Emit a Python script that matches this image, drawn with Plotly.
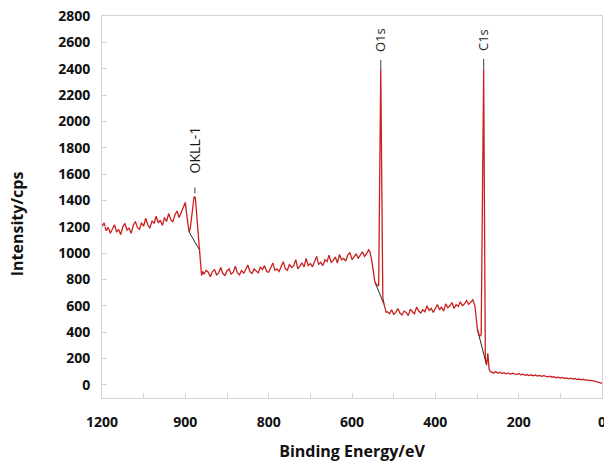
import plotly.graph_objects as go

# ---------------- data ----------------
seg_a_ev = list(range(1200, 999, -5))
seg_a_cps = [1200, 1230, 1170, 1195, 1150, 1185, 1215, 1160, 1180, 1140,
             1200, 1225, 1175, 1190, 1150, 1210, 1240, 1195, 1180, 1230,
             1205, 1265, 1215, 1190, 1245, 1225, 1280, 1230, 1250, 1210,
             1270, 1240, 1300, 1255, 1235, 1290, 1320, 1270, 1310, 1345,
             1385]

okll_ev = [997, 994, 991, 988, 985, 982, 979, 976, 973, 970, 967, 964, 961, 958]
okll_cps = [1300, 1230, 1160, 1190, 1260, 1350, 1430, 1420, 1300, 1150, 1030, 880, 830, 860]

seg_b_ev = list(range(955, 559, -5))
seg_b_cps = [840, 870, 855, 820, 860, 875, 835, 850, 890, 845,
             830, 865, 880, 840, 855, 900, 850, 835, 870, 845,
             885, 910, 860, 845, 880, 865, 850, 895, 875, 905,
             860, 855, 890, 925, 870, 880, 860, 900, 935, 880,
             870, 915, 890, 905, 950, 880, 900, 925, 895, 960,
             905, 920, 895, 940, 975, 915, 930, 905, 950, 935,
             985, 930, 945, 970, 925, 990, 950, 960, 940, 985,
             1005, 950, 970, 995, 960, 985, 1010, 975, 995, 1025]

o1s_ev = [557, 553, 549, 545, 541, 536, 531, 526, 523, 520, 518]
o1s_cps = [1010, 950, 860, 780, 760, 750, 2395, 660, 610, 570, 550]

seg_d_ev = list(range(515, 309, -5))
seg_d_cps = [555, 540, 570, 535, 550, 580, 545, 530, 560, 550,
             525, 575, 555, 540, 590, 560, 545, 570, 555, 600,
             565, 580, 550, 575, 610, 570, 590, 560, 615, 585,
             600, 625, 580, 610, 595, 630, 600, 615, 640, 610,
             625, 645]

c1s_ev = [305, 302, 299, 296, 293, 290, 284, 280, 277, 274, 271, 268]
c1s_cps = [600, 520, 420, 390, 370, 380, 2395, 200, 150, 240, 120, 100]

seg_f_ev = list(range(265, -1, -5))
seg_f_cps = [95, 90, 100, 88, 95, 85, 92, 84, 90, 80,
             88, 82, 78, 86, 76, 80, 72, 78, 70, 76,
             68, 74, 66, 72, 64, 70, 62, 60, 66, 58,
             62, 54, 58, 52, 56, 48, 52, 46, 50, 44,
             48, 40, 44, 38, 42, 36, 38, 32, 34, 28,
             24, 22, 16, 12]

# Shirley-type background segments (black) under the peaks
bg_okll_ev, bg_okll_cps = [991, 967], [1160, 1030]
bg_o1s_ev, bg_o1s_cps = [545, 523], [780, 610]
bg_c1s_ev, bg_c1s_cps = [299, 277], [420, 150]

peak_labels = ["OKLL-1", "O1s", "C1s"]
peak_ev = [977, 531, 284]
peak_cps = [1430, 2395, 2395]

x_tickvals = [1200, 1000, 800, 600, 400, 200, 0]
x_ticktext = ["1200", "900", "800", "600", "400", "200", "0"]
y_tickvals = list(range(0, 2801, 200))

for e, c in [(seg_a_ev, seg_a_cps), (seg_b_ev, seg_b_cps), (seg_d_ev, seg_d_cps), (seg_f_ev, seg_f_cps)]:
    assert len(e) == len(c), (len(e), len(c))

energy = seg_a_ev + okll_ev + seg_b_ev + o1s_ev + seg_d_ev + c1s_ev + seg_f_ev
intensity = seg_a_cps + okll_cps + seg_b_cps + o1s_cps + seg_d_cps + c1s_cps + seg_f_cps

# ---------------- figure ----------------
fig = go.Figure()
for bx, by in [(bg_okll_ev, bg_okll_cps), (bg_o1s_ev, bg_o1s_cps), (bg_c1s_ev, bg_c1s_cps)]:
    fig.add_trace(go.Scatter(x=bx, y=by, mode="lines",
                             line=dict(color="#262626", width=1), showlegend=False,
                             hoverinfo="skip"))
fig.add_trace(go.Scatter(x=energy, y=intensity, mode="lines",
                         line=dict(color="#c8201e", width=1.3), showlegend=False))

for lab, ex, ey in zip(peak_labels, peak_ev, peak_cps):
    okll = lab == "OKLL-1"
    fig.add_annotation(x=ex, y=ey, text=lab, textangle=-90,
                       showarrow=True, arrowhead=0, arrowwidth=1, arrowcolor="#404040",
                       ax=0, ay=-47 if okll else -29, standoff=3 if okll else 0,
                       startstandoff=13 if okll else 6,
                       font=dict(family="Open Sans", size=14 if okll else 13, color="#1a1a1a"))

# y-axis title placed as in the reference (slightly below the plot centre)
fig.add_annotation(text="Intensity/cps", textangle=-90, showarrow=False,
                   xref="paper", yref="paper", x=-0.17, y=0.455,
                   xanchor="center", yanchor="middle",
                   font=dict(family="Open Sans", size=16, weight="bold", color="#111111"))

axis_col = "#d4d4d4"
fig.update_layout(
    width=604, height=462,
    margin=dict(l=102, r=2, t=16, b=64, autoexpand=False),
    paper_bgcolor="white", plot_bgcolor="white",
    font=dict(family="Open Sans", color="#111111"),
    xaxis=dict(range=[1200, 0], showgrid=False, zeroline=False, automargin=False,
               showline=True, linecolor=axis_col, linewidth=1, mirror=True,
               ticks="inside", ticklen=5, tickcolor=axis_col,
               tickmode="array", tickvals=x_tickvals, ticktext=x_ticktext,
               ticklabeloverflow="allow",
               minor=dict(tickmode="linear", tick0=0, dtick=100, ticks="inside",
                          ticklen=5, tickcolor=axis_col),
               tickfont=dict(family="Open Sans", size=14, color="#111111", weight="bold"),
               ticklabelstandoff=11,
               title=dict(text="Binding Energy/eV", standoff=21,
                          font=dict(family="Open Sans", size=16, weight="bold", color="#111111"))),
    yaxis=dict(range=[-100, 2800], showgrid=False, zeroline=False, automargin=False,
               showline=True, linecolor=axis_col, linewidth=1, mirror=True,
               ticks="inside", ticklen=5, tickcolor=axis_col,
               tickmode="array", tickvals=y_tickvals,
               tickfont=dict(family="Open Sans", size=14, color="#111111", weight="bold"),
               ticklabelstandoff=8),
)

fig.write_html("out.html", config={"displayModeBar": False},
               post_script="document.body.style.margin='0';document.body.style.overflow='hidden';")
